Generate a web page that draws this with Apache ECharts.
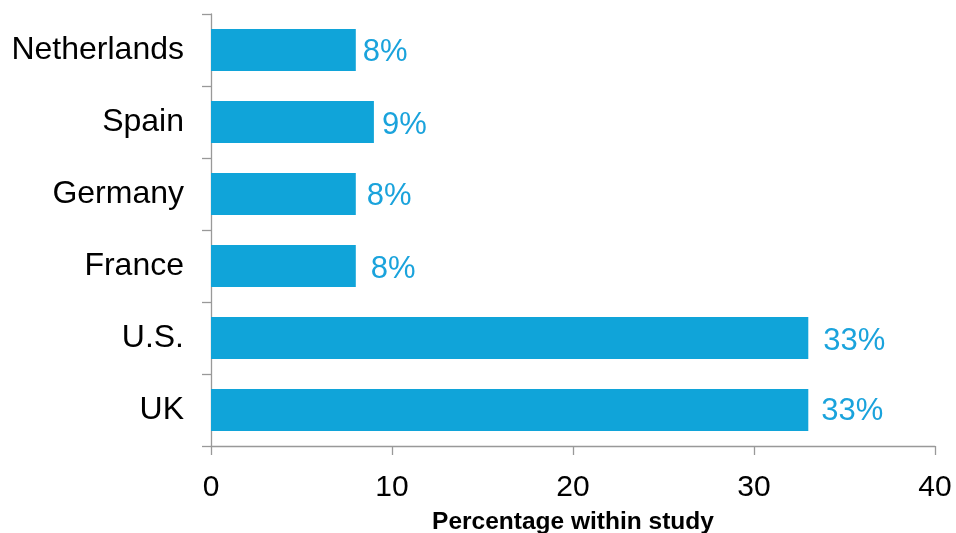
<!DOCTYPE html>
<html>
<head>
<meta charset="utf-8">
<script src="https://cdn.jsdelivr.net/npm/echarts@6/dist/echarts.min.js"></script>
<style>html,body{margin:0;padding:0;background:#fff}#c{width:956px;height:533px}</style>
</head>
<body>
<div id="c"></div>
<script>
const categories = ["UK", "U.S.", "France", "Germany", "Spain", "Netherlands"];
const values = [33, 33, 8, 8, 9, 8];
const xTicks = { min: 0, max: 40, interval: 10 };
const xTitle = "Percentage within study";
// small per-label nudges seen in the reference (style only)
const labelNudge = [[7, 1], [9, 3], [9, 3], [5, 2], [2, 3], [1, 2]];

const chart = echarts.init(document.getElementById('c'), null, { renderer: 'canvas' });
const font = 'Liberation Sans, Arial, Helvetica, sans-serif';
chart.setOption({
  animation: false,
  grid: { left: 211, right: 21, top: 14, bottom: 87, containLabel: false, outerBoundsMode: 'none' },
  xAxis: {
    type: 'value', min: xTicks.min, max: xTicks.max, interval: xTicks.interval,
    name: xTitle, nameLocation: 'middle', nameGap: 64,
    nameTextStyle: { fontFamily: font, fontSize: 24.5, fontWeight: 'bold', color: '#000' },
    axisLine: { show: true, lineStyle: { color: '#999', width: 1.3 } },
    axisTick: { show: true, length: 9, lineStyle: { color: '#999', width: 1.3 } },
    axisLabel: { fontFamily: font, fontSize: 30, color: '#000', margin: 27 },
    splitLine: { show: false }
  },
  yAxis: {
    type: 'category', data: categories,
    axisLine: { show: true, lineStyle: { color: '#999', width: 1.3 } },
    axisTick: { show: true, length: 9, lineStyle: { color: '#999', width: 1.3 } },
    axisLabel: { fontFamily: font, fontSize: 32, color: '#000', margin: 27 }
  },
  series: [{
    type: 'bar',
    data: values.map((v, i) => ({ value: v, label: { offset: labelNudge[i] } })),
    barWidth: 42,
    itemStyle: { color: '#10a4d9' },
    label: { show: true, position: 'right', distance: 6, formatter: '{c}%',
      fontFamily: font, fontSize: 31, color: '#1aa3dc' }
  }]
});
</script>
</body>
</html>
